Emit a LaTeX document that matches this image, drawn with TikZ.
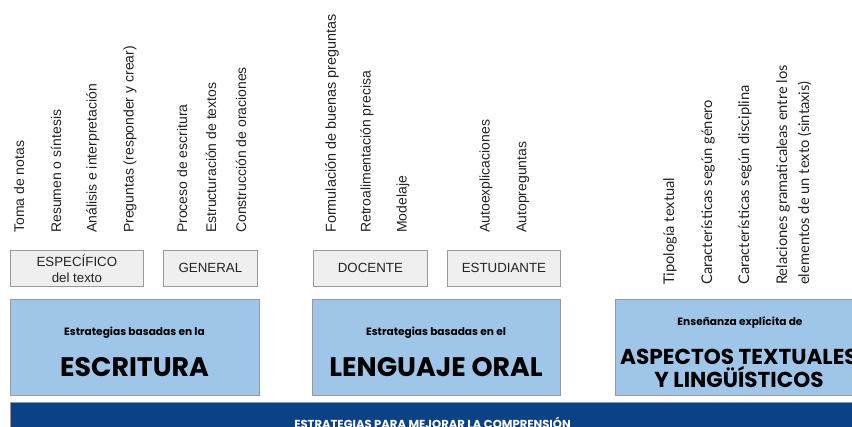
\documentclass[tikz,border=0pt]{standalone}
\usepackage{fontspec}
\setmainfont{Liberation Sans}
\newfontfamily\popfont{Poppins}
\newfontfamily\latofont{Lato}
\definecolor{lightblue}{HTML}{9FC5E8}
\definecolor{grayfill}{HTML}{EFEFEF}
\definecolor{boxgray}{HTML}{999999}
\definecolor{barblue}{HTML}{0B4187}
\definecolor{txtgray}{HTML}{222222}
\begin{document}
\begin{tikzpicture}[x=1pt,y=1pt,
  vtext/.style={rotate=90,anchor=west,inner sep=0pt,text=txtgray,font=\fontsize{14}{16}\selectfont},
  vtextr/.style={rotate=90,anchor=west,inner sep=0pt,text=txtgray,font=\latofont\fontsize{14.7}{16}\selectfont},
  vtextb/.style={rotate=90,anchor=north west,inner sep=0pt,align=left,text=txtgray,font=\latofont\fontsize{14.7}{22}\selectfont},
  graybox/.style={draw=boxgray,fill=grayfill,line width=0.8pt,anchor=north west,inner sep=0pt,align=center,text=txtgray,font=\fontsize{13.3}{16}\selectfont},
  bluebox/.style={draw=boxgray,fill=lightblue,line width=0.8pt,anchor=north west,inner sep=0pt,minimum height=96pt},
  smallhead/.style={inner sep=0pt,font=\popfont\bfseries\fontsize{10.6}{12}\selectfont},
  bighead/.style={inner sep=0pt,align=center,font=\popfont\bfseries\fontsize{26.8}{22}\selectfont},
  bighead3/.style={inner sep=0pt,align=center,font=\popfont\bfseries\fontsize{21.6}{21}\selectfont},
  bartext/.style={inner sep=0pt,anchor=base,text=white,font=\popfont\bfseries\fontsize{11.6}{12}\selectfont}
]
\useasboundingbox (0,0) rectangle (852,-427);
\clip (0,0) rectangle (852,-427);

% vertical texts
\node[vtext] (t1) at (19,-233) {Toma de notas};
\node[vtext] (t2) at (56,-233) {Resumen o síntesis};
\node[vtext] (t3) at (93,-233) {Análisis e interpretación};
\node[vtext] (t4) at (130,-233) {Preguntas (responder y crear)};
\node[vtext] (t5) at (182,-233) {Proceso de escritura};
\node[vtext] (t6) at (211,-233) {Estructuración de textos};
\node[vtext] (t7) at (241,-233) {Construcción de oraciones};
\node[vtext,font=\fontsize{14.4}{16}\selectfont] (t8) at (332,-233) {Formulación de buenas preguntas};
\node[vtext] (t9) at (367,-233) {Retroalimentación precisa};
\node[vtext] (t10) at (403,-233) {Modelaje};
\node[vtext] (t11) at (486,-233) {Autoexplicaciones};
\node[vtext] (t12) at (523,-233) {Autopreguntas};
\node[vtextr] (t13) at (670,-285) {Tipología textual};
\node[vtextr] (t14) at (708,-285) {Características según género};
\node[vtextr] (t15) at (745,-285) {Características según disciplina};
\node[vtextb] (t16) at (776,-285) {Relaciones gramaticaleas entre los\\elementos de un texto (sintaxis)};

% gray boxes
\node[graybox,minimum width=133pt,minimum height=36pt] (esp) at (10,-250) {ESPECÍFICO\\del texto};
\node[graybox,minimum width=94pt,minimum height=36pt] (gen) at (163,-250) {GENERAL};
\node[graybox,minimum width=114pt,minimum height=36pt] (doc) at (313,-250) {DOCENTE};
\node[graybox,minimum width=113pt,minimum height=36pt] (est) at (447,-250) {ESTUDIANTE};

% blue boxes
\node[bluebox,minimum width=249pt] (b1) at (10,-299) {};
\node[bluebox,minimum width=248pt] (b2) at (312,-299) {};
\node[bluebox,minimum width=247pt] (b3) at (615,-299) {};

\node[smallhead] (h1) at (134.5,-333) {Estrategias basadas en la};
\node[bighead] (m1) at (134.5,-367) {ESCRITURA};
\node[smallhead] (h2) at (436,-333) {Estrategias basadas en el};
\node[bighead] (m2) at (436,-367) {LENGUAJE ORAL};
\node[smallhead] (h3) at (740,-323) {Enseñanza explícita de};
\node[bighead3] (m3) at (739,-368.5) {ASPECTOS TEXTUALES\\Y LINGÜÍSTICOS};

% bottom bar
\node[draw=boxgray,fill=barblue,line width=0.8pt,anchor=north west,inner sep=0pt,minimum width=860pt,minimum height=40pt] (bar) at (10,-402) {};
\node[bartext] (bt) at (432.5,-428.5) {ESTRATEGIAS PARA MEJORAR LA COMPRENSIÓN};
\end{tikzpicture}
\end{document}
